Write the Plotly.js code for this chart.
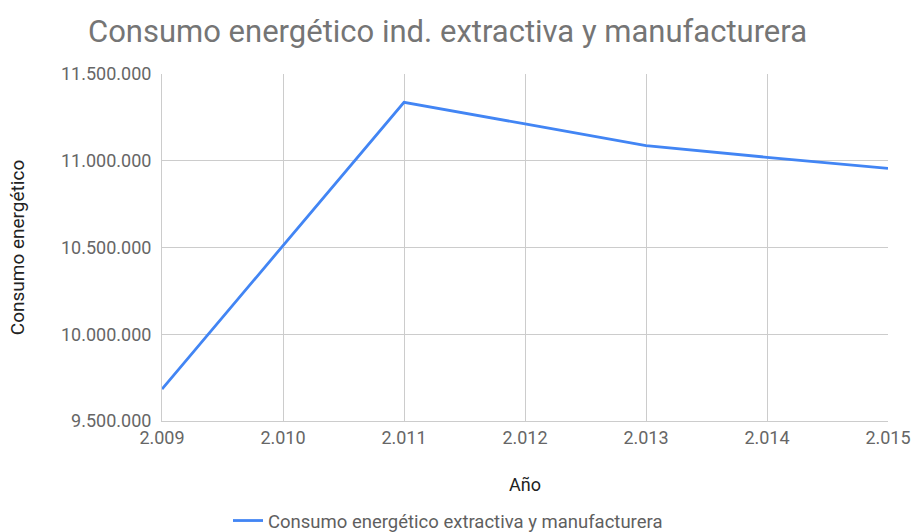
<!DOCTYPE html>
<html>
<head>
<meta charset="utf-8">
<script src="https://cdn.plot.ly/plotly-3.0.1.min.js"></script>
<style>
  html, body { margin: 0; padding: 0; background: #fff; }
  #chart { width: 914px; height: 532px; }
</style>
</head>
<body>
<div id="chart"></div>
<script>
// Energy consumption of the extractive and manufacturing industry, by year
const years = [2009, 2010, 2011, 2012, 2013, 2014, 2015];
const consumo = [9684000, 10508000, 11337000, 11212000, 11087000, 11020000, 10956000];
const seriesName = 'Consumo energético extractiva y manufacturera';
const yTicks = [9500000, 10000000, 10500000, 11000000, 11500000];

const trace = {
  x: years,
  y: consumo,
  type: 'scatter',
  mode: 'lines',
  name: seriesName,
  line: { color: '#4285F4', width: 2.8 },
  hoverinfo: 'x+y'
};

const layout = {
  width: 914,
  height: 532,
  separators: ',.',
  font: { family: 'Roboto, Arial, sans-serif', color: '#666666', size: 18 },
  paper_bgcolor: '#ffffff',
  plot_bgcolor: '#ffffff',
  margin: { l: 162, r: 26, t: 74, b: 111 },
  title: {
    text: 'Consumo energético ind. extractiva y manufacturera',
    font: { family: 'Roboto, Arial, sans-serif', size: 31, color: '#757575' },
    xref: 'container', yref: 'container',
    x: 88 / 914, xanchor: 'left',
    y: 1 - 31 / 532, yanchor: 'middle'
  },
  xaxis: {
    range: [2009, 2015],
    tickvals: years,
    tickformat: ',d',
    showgrid: true,
    gridcolor: '#cccccc',
    gridwidth: 1,
    showline: true,
    linecolor: '#cccccc',
    zeroline: false,
    ticks: '',
    ticklen: 0,
    tickfont: { size: 18, color: '#666666' },
    title: { text: 'Año', font: { size: 18, color: '#222222' }, standoff: 31 }
  },
  yaxis: {
    range: [9500000, 11500000],
    tickvals: yTicks,
    tickformat: ',d',
    showgrid: true,
    gridcolor: '#cccccc',
    gridwidth: 1,
    showline: true,
    linecolor: '#cccccc',
    zeroline: false,
    ticks: '',
    ticklen: 0,
    ticklabelstandoff: 6,
    tickfont: { size: 18, color: '#666666' },
    title: { text: 'Consumo energético', font: { size: 19, color: '#222222' }, standoff: 31 }
  },
  showlegend: true,
  legend: {
    orientation: 'h',
    x: 228 / 914, xref: 'container', xanchor: 'left',
    y: 1 - 521 / 532, yref: 'container', yanchor: 'middle',
    font: { size: 18.5, color: '#5f5f5f' },
    itemwidth: 30
  }
};

Plotly.newPlot('chart', [trace], layout, { displayModeBar: false, staticPlot: true });
</script>
</body>
</html>
